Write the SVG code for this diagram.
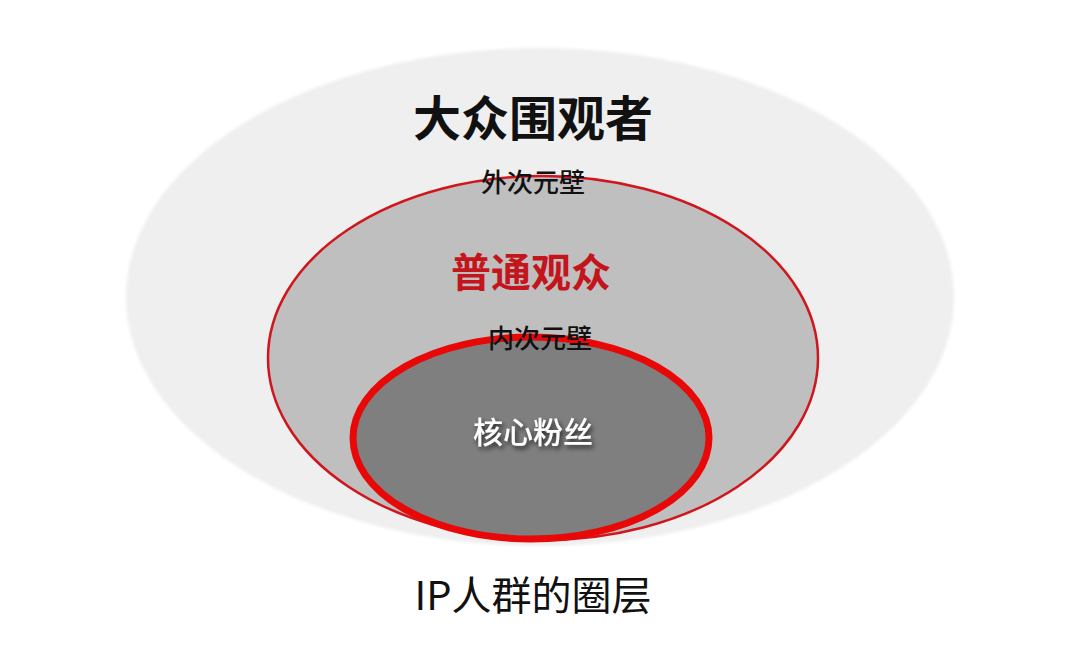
<svg xmlns="http://www.w3.org/2000/svg" width="1080" height="671" viewBox="0 0 1080 671">
  <defs>
    <filter id="shadow" x="-20%" y="-50%" width="140%" height="200%">
      <feDropShadow dx="2" dy="3" stdDeviation="2.5" flood-color="#000" flood-opacity="0.75"/>
    </filter>
    <filter id="soft" x="-5%" y="-5%" width="110%" height="110%">
      <feGaussianBlur stdDeviation="1.5"/>
    </filter>
  </defs>
  <style>
    text { font-family: "Noto Sans CJK SC", "Noto Sans", sans-serif; text-anchor: middle; dominant-baseline: central; }
    .title { font-size: 48px; font-weight: bold; fill: #111; }
    .wall { font-size: 26px; font-weight: 500; fill: #111; }
    .mid { font-size: 40px; font-weight: bold; fill: #c4141c; }
    .core { font-size: 30px; font-weight: 500; fill: #fff; }
    .caption { font-size: 40px; fill: #111; }
  </style>
  <rect width="1080" height="671" fill="#ffffff"/>
  <g id="outer">
    <ellipse cx="540" cy="297" rx="414" ry="249" fill="#efefef" filter="url(#soft)"/>
    <text class="title" x="533" y="115">大众围观者</text>
  </g>
  <g id="middle">
    <ellipse cx="543" cy="358" rx="275" ry="182" fill="#bfbfbf" stroke="#d0161c" stroke-width="2.5"/>
    <text class="wall" x="533" y="180">外次元壁</text>
    <text class="mid" x="531" y="270">普通观众</text>
  </g>
  <g id="inner">
    <ellipse cx="531" cy="438" rx="178" ry="101" fill="#7f7f7f" stroke="#e80808" stroke-width="7"/>
    <text class="wall" x="540" y="336">内次元壁</text>
    <text class="core" x="533" y="430" filter="url(#shadow)">核心粉丝</text>
  </g>
  <g id="connectors"/>
  <text class="caption" x="533" y="593">IP人群的圈层</text>
</svg>
